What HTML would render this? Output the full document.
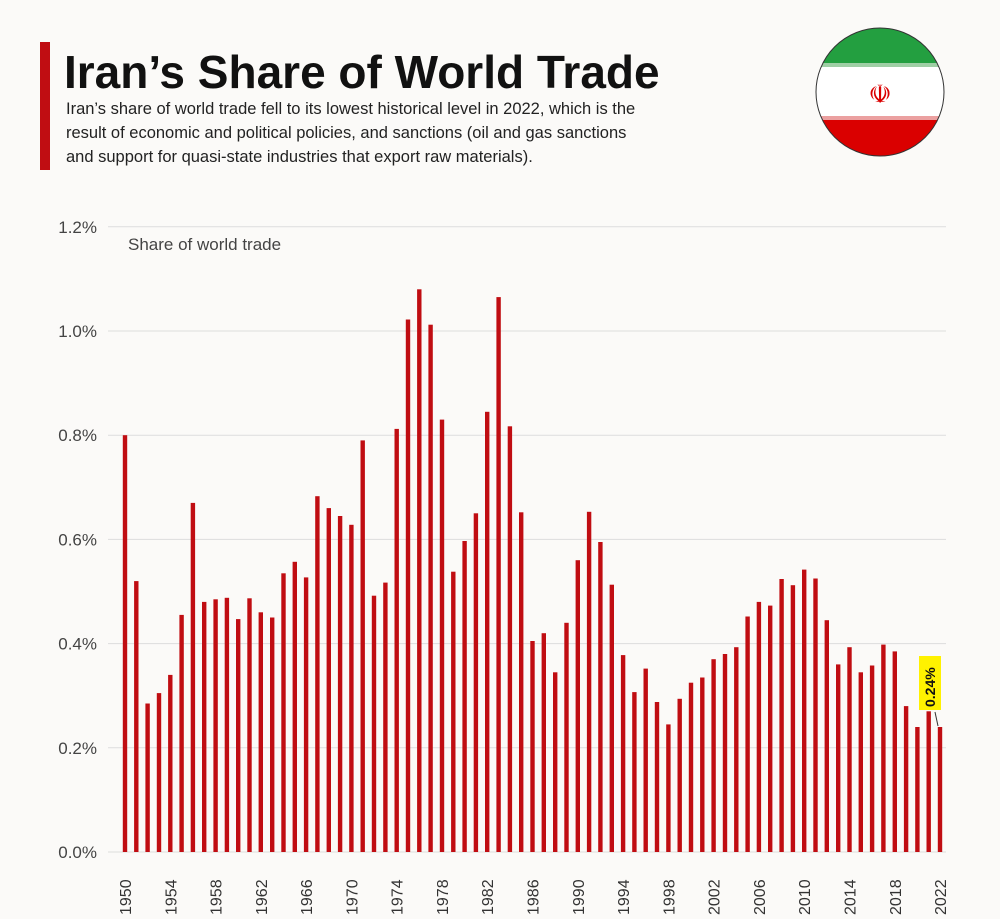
<!DOCTYPE html>
<html><head><meta charset="utf-8"><style>
body{margin:0;background:#fbfaf8;}
svg{display:block;font-family:"Liberation Sans",sans-serif;}
</style></head><body>
<svg id="s" width="1000" height="919" xmlns="http://www.w3.org/2000/svg">
<rect width="1000" height="919" fill="#fbfaf8"/>
<rect x="40" y="42" width="10" height="128" fill="#c00d12"/>
<text x="64" y="88" font-size="46" font-weight="bold" fill="#111">Iran’s Share of World Trade</text>
<text font-size="16.5" fill="#222">
<tspan x="66" y="114">Iran’s share of world trade fell to its lowest historical level in 2022, which is the</tspan>
<tspan x="66" y="138">result of economic and political policies, and sanctions (oil and gas sanctions</tspan>
<tspan x="66" y="162">and support for quasi-state industries that export raw materials).</tspan>
</text>
<defs><clipPath id="c"><circle cx="880" cy="92" r="64"/></clipPath></defs>
<g clip-path="url(#c)">
<rect x="810" y="20" width="140" height="46" fill="#239f40"/>
<rect x="810" y="66" width="140" height="52" fill="#fff"/>
<rect x="810" y="118" width="140" height="50" fill="#da0000"/>
<rect x="810" y="63" width="140" height="4" fill="#9fcfa5"/>
<rect x="810" y="116" width="140" height="4" fill="#eba0a0"/>
</g>
<circle cx="880" cy="92" r="64" fill="none" stroke="#333" stroke-width="1"/>
<text x="880" y="103" font-size="26" fill="#da0000" text-anchor="middle">☫</text>
<text x="128" y="250" font-size="17" fill="#444">Share of world trade</text>
<g id="g"></g>
</svg>
<script>
var g=document.getElementById('g'),ns='http://www.w3.org/2000/svg',h='';
var v=[0.80,0.52,0.285,0.305,0.34,0.455,0.67,0.48,0.485,0.488,0.447,0.487,0.46,0.45,0.535,0.557,0.527,0.683,0.66,0.645,0.628,0.79,0.492,0.517,0.812,1.022,1.08,1.012,0.83,0.538,0.597,0.65,0.845,1.065,0.817,0.652,0.405,0.42,0.345,0.44,0.56,0.653,0.595,0.513,0.378,0.307,0.352,0.288,0.245,0.294,0.325,0.335,0.37,0.38,0.393,0.452,0.48,0.473,0.524,0.512,0.542,0.525,0.445,0.36,0.393,0.345,0.358,0.398,0.385,0.28,0.24,0.27,0.24];
var y0=852,k=521;
for(var i=0;i<=6;i++){var y=y0-i*0.2*k;
h+='<line x1="108" x2="946" y1="'+y+'" y2="'+y+'" stroke="#ddd" stroke-width="1"/>';
h+='<text x="97" y="'+(y+6)+'" font-size="17" fill="#444" text-anchor="end">'+(i*0.2).toFixed(1)+'%</text>';}
for(var i=0;i<v.length;i++){var x=125+i*11.32,t=y0-v[i]*k;
h+='<rect x="'+(x-2.2).toFixed(1)+'" y="'+t.toFixed(1)+'" width="4.4" height="'+(y0-t).toFixed(1)+'" fill="#c00d12"/>';
if(i%4==0)h+='<text transform="translate('+(x+6)+',915) rotate(-90)" font-size="16" fill="#333">'+(1950+i)+'</text>';}
h+='<rect x="919" y="656" width="22" height="54" fill="#fff200"/>';
h+='<text transform="translate(935,707) rotate(-90)" font-size="14" font-weight="bold" fill="#111">0.24%</text>';
h+='<line x1="935" y1="712" x2="938" y2="726" stroke="#333"/>';
g.innerHTML=h;
</script>
</body></html>
